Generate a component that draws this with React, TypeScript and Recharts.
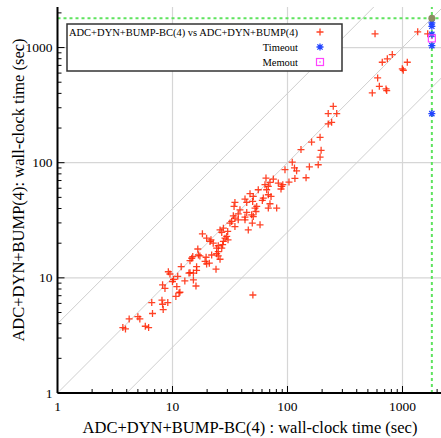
import React from 'react';
import { ScatterChart, Scatter, XAxis, YAxis, ReferenceLine, Legend, Label } from 'recharts';

const FONT = "'Liberation Serif', 'DejaVu Serif', serif";

const majorTicks = [1, 10, 100, 1000];
const minorTicks = [2, 3, 4, 5, 6, 7, 8, 9, 20, 30, 40, 50, 60, 70, 80, 90, 200, 300, 400, 500, 600, 700, 800, 900, 2000];
const allTicks = [...majorTicks, ...minorTicks].sort((a, b) => a - b);
const axisMax = 2250;
const timeLimit = 1800;
const diagonalFactors = [0.25, 1, 4];

// instances solved by both: BC time (x) and plain time (y), seconds
const bcTime = [
  9.2, 9.5, 11.9, 13.9, 11.1, 10.0, 12.8, 8.2, 8.6, 10.9, 11.4, 10.7, 6.6, 8.1, 8.2, 9.1, 8.3, 6.7, 5.0, 5.2, 4.2, 5.8, 6.2, 3.7, 3.9,
  16.6, 15.0, 17.3, 14.2, 19.6, 21.9, 24.2, 25.0, 25.9, 19.8, 14.2, 16.2, 15.2, 23.9, 15.2, 16.0, 10.2, 11.6, 21.2, 22.6, 25.0, 27.7, 30.4, 26.8,
  18.2, 19.8, 21.6, 25.9, 26.8, 27.7, 30.2, 28.6, 27.3, 24.2, 25.0, 16.8, 14.7, 19.2, 20.9, 16.2, 31.6,
  65, 70.4, 75.3, 83.2, 89.1, 87.8, 95.1, 103, 63.7, 68.1, 55.7, 65.9, 68.1, 61.6, 60.4, 71.9, 70.4, 47.2, 50.4, 42.7, 44.2, 49.8, 34.9,
  34.3, 54.0, 52.2, 53.2, 80.5, 68.1, 38.6, 44.2, 48.8, 50.4, 42.7, 33.8, 34.9, 37.3,
  546, 729, 250, 226, 268, 226, 242, 192, 162, 131, 196, 192, 185, 155, 110, 115, 120, 145, 116, 91, 57.7, 49.4, 37.3, 42.7, 32.7, 45.6, 34.9, 29.6,
  577, 1356, 1656, 815, 738, 667, 1101, 996, 1016, 608, 629, 719, 50,
];
const baseTime = [
  11.3, 10.8, 12.5, 11.0, 10.3, 9.3, 9.4, 8.7, 8.1, 8.4, 7.4, 6.9, 6.1, 6.4, 5.9, 6.1, 5.3, 4.9, 4.6, 4.4, 4.4, 3.8, 3.7, 3.7, 3.6,
  17.8, 15.3, 15.5, 14.1, 15.1, 15.8, 16.2, 15.5, 14.5, 13.2, 11.1, 11.6, 11.0, 11.9, 9.6, 8.5, 9.7, 7.5, 20.7, 20.0, 19.0, 20.7, 21.4, 18.1,
  24.1, 22.1, 21.4, 26.1, 24.8, 27.0, 25.3, 22.1, 19.4, 18.1, 16.9, 15.8, 14.8, 13.9, 13.4, 12.5, 29.9,
  73.6, 67.4, 72.1, 66.6, 62.2, 59.1, 86.9, 67.9, 64.4, 62.2, 58.2, 58.2, 52.7, 49.3, 47.0, 50.9, 44.0, 53.8, 50.9, 48.3, 45.2, 46.1, 45.2,
  41.7, 41.7, 40.4, 37.7, 40.4, 40.4, 39.0, 37.0, 35.3, 34.1, 33.7, 34.6, 33.0, 36.0,
  404, 423, 309, 267, 267, 217, 224, 166, 151, 130, 128, 112, 96, 92, 101, 90, 85, 74, 73, 64.4, 28.9, 29.9, 31.9, 31.9, 30.9, 26.1, 27.9, 22.9,
  1315, 1370, 1315, 869, 798, 745, 745, 653, 635, 545, 461, 437, 7.1,
];
// BC timed out (x = limit); plain time on y
const timeoutBase = [1640, 1530, 1300, 1040, 267];
const memoutBase = [1200];
const bothOutBase = [1800];

const solved = bcTime.map((x, i) => ({ x, y: baseTime[i] }));
const timeouts = timeoutBase.map((y) => ({ x: timeLimit, y }));
const memouts = memoutBase.map((y) => ({ x: timeLimit, y }));
const bothOut = bothOutBase.map((y) => ({ x: timeLimit, y }));

const diagonals = diagonalFactors.map((f) =>
  f >= 1
    ? [{ x: 1, y: f }, { x: axisMax / f, y: axisMax }]
    : [{ x: 1 / f, y: 1 }, { x: axisMax, y: axisMax * f }]
);

const isMajor = (v: number) => majorTicks.includes(v);
const tickLen = (v: number) => (isMajor(v) ? 7 : 4);

const BottomTick = (p: any) => {
  const v = p.payload.value;
  return (
    <g>
      <line x1={p.x} x2={p.x} y1={p.y} y2={p.y - tickLen(v)} stroke="#000" />
      {isMajor(v) && (
        <text x={p.x} y={p.y + 18} textAnchor="middle" fontSize={13.5} fontFamily={FONT} fill="#000">{v}</text>
      )}
    </g>
  );
};
const TopTick = (p: any) => (
  <line x1={p.x} x2={p.x} y1={p.y} y2={p.y + tickLen(p.payload.value)} stroke="#000" />
);
const LeftTick = (p: any) => {
  const v = p.payload.value;
  return (
    <g>
      <line x1={p.x} x2={p.x + tickLen(v)} y1={p.y} y2={p.y} stroke="#000" />
      {isMajor(v) && (
        <text x={p.x - 5} y={p.y + 4.5} textAnchor="end" fontSize={13.5} fontFamily={FONT} fill="#000">{v}</text>
      )}
    </g>
  );
};
const RightTick = (p: any) => (
  <line x1={p.x} x2={p.x - tickLen(p.payload.value)} y1={p.y} y2={p.y} stroke="#000" />
);

const red = '#ff2200';
const blue = '#2244ff';
const magenta = '#ff44ff';

const PlusMark = ({ cx, cy }: any) => (
  <path d={`M${cx - 3.5},${cy}h7M${cx},${cy - 3.5}v7`} stroke={red} strokeWidth={1.3} opacity={0.85} fill="none" />
);
const StarMark = ({ cx, cy }: any) => (
  <path
    d={`M${cx - 3.5},${cy}h7M${cx},${cy - 3.5}v7M${cx - 2.6},${cy - 2.6}l5.2,5.2M${cx - 2.6},${cy + 2.6}l5.2,-5.2`}
    stroke={blue}
    strokeWidth={1.3}
    fill="none"
  />
);
const BoxMark = ({ cx, cy }: any) => (
  <g>
    <rect x={cx - 3.5} y={cy - 3.5} width={7} height={7} stroke={magenta} strokeWidth={1.2} fill="none" />
    <rect x={cx - 0.7} y={cy - 0.7} width={1.4} height={1.4} fill={magenta} />
  </g>
);
const BothMark = ({ cx, cy }: any) => <circle cx={cx} cy={cy} r={3.5} fill="#8c8c62" />;

const LegendBox = () => (
  <svg width={278} height={50} style={{ display: 'block' }}>
    <rect x={1} y={1} width={275} height={47} fill="#fff" stroke="#333" strokeWidth={1.5} />
    <g fontFamily={FONT} fontSize={10.5} fill="#000" textAnchor="end">
      <text x={232} y={12.5}>ADC+DYN+BUMP-BC(4) vs ADC+DYN+BUMP(4)</text>
      <text x={232} y={27.5}>Timeout</text>
      <text x={232} y={42.5}>Memout</text>
    </g>
    <PlusMark cx={254} cy={9} />
    <StarMark cx={254} cy={24} />
    <BoxMark cx={254} cy={39} />
  </svg>
);

export default function App() {
  return (
    <div style={{ position: 'absolute', left: 0, top: 0, width: 441, height: 438, overflow: 'hidden', background: '#fff' }}>
      <ScatterChart width={444} height={438} margin={{ top: 7, right: 1, bottom: 0, left: 0 }}>
        <XAxis
          dataKey="x"
          type="number"
          scale="log"
          domain={[1, axisMax]}
          allowDataOverflow
          ticks={allTicks}
          interval={0}
          tick={<BottomTick />}
          tickSize={0}
          tickMargin={0}
          tickLine={false}
          axisLine={{ stroke: '#000', strokeWidth: 2 }}
          height={45}
        >
          <Label
            content={() => (
              <text x={250} y={433} textAnchor="middle" fontSize={16.5} fontFamily={FONT} fill="#000">
                ADC+DYN+BUMP-BC(4) : wall-clock time (sec)
              </text>
            )}
          />
        </XAxis>
        <XAxis
          xAxisId="top"
          orientation="top"
          type="number"
          scale="log"
          domain={[1, axisMax]}
          allowDataOverflow
          ticks={allTicks}
          interval={0}
          tick={<TopTick />}
          tickSize={0}
          tickMargin={0}
          tickLine={false}
          axisLine={{ stroke: '#000', strokeWidth: 1.5 }}
          height={0}
        />
        <YAxis
          dataKey="y"
          type="number"
          scale="log"
          domain={[1, axisMax]}
          allowDataOverflow
          ticks={allTicks}
          interval={0}
          tick={<LeftTick />}
          tickSize={0}
          tickMargin={0}
          tickLine={false}
          axisLine={{ stroke: '#000', strokeWidth: 2 }}
          width={57.5}
        >
          <Label
            content={() => (
              <text
                transform="translate(24, 190) rotate(-90)"
                textAnchor="middle"
                fontSize={16.5}
                fontFamily={FONT}
                fill="#000"
              >
                ADC+DYN+BUMP(4): wall-clock time (sec)
              </text>
            )}
          />
        </YAxis>
        <YAxis
          yAxisId="right"
          orientation="right"
          type="number"
          scale="log"
          domain={[1, axisMax]}
          allowDataOverflow
          ticks={allTicks}
          interval={0}
          tick={<RightTick />}
          tickSize={0}
          tickMargin={0}
          tickLine={false}
          axisLine={{ stroke: '#000', strokeWidth: 1.5 }}
          width={0}
        />
        {majorTicks.slice(1).map((v) => (
          <ReferenceLine key={`gx${v}`} x={v} stroke="#d6d6d6" strokeWidth={1.2} />
        ))}
        {majorTicks.slice(1).map((v) => (
          <ReferenceLine key={`gy${v}`} y={v} stroke="#d6d6d6" strokeWidth={1.2} />
        ))}
        {diagonals.map((seg, i) => (
          <ReferenceLine key={`d${i}`} segment={seg} stroke="#cfcfcf" strokeWidth={1} />
        ))}
        <ReferenceLine x={timeLimit} stroke="#5fe35f" strokeWidth={2} strokeDasharray="3 3" />
        <ReferenceLine y={timeLimit} stroke="#5fe35f" strokeWidth={2} strokeDasharray="3 3" />
        <Scatter name="ADC+DYN+BUMP-BC(4) vs ADC+DYN+BUMP(4)" data={solved} shape={<PlusMark />} isAnimationActive={false} />
        <Scatter name="Timeout" data={timeouts} shape={<StarMark />} isAnimationActive={false} />
        <Scatter name="Memout" data={memouts} shape={<BoxMark />} isAnimationActive={false} />
        <Scatter name="both" data={bothOut} shape={<BothMark />} isAnimationActive={false} legendType="none" />
        <Legend
          layout="horizontal"
          verticalAlign="middle"
          align="center"
          content={() => <LegendBox />}
          wrapperStyle={{ position: 'absolute', left: 66, top: 23, width: 278, height: 50 }}
        />
      </ScatterChart>
    </div>
  );
}
